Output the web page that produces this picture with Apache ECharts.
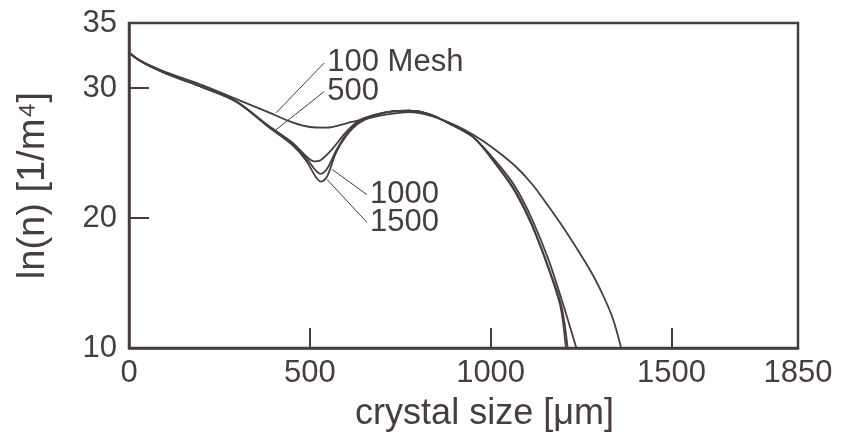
<!DOCTYPE html>
<html>
<head>
<meta charset="utf-8">
<script src="https://cdn.jsdelivr.net/npm/echarts@6/dist/echarts.min.js"></script>
<style>html,body{margin:0;padding:0;background:#fff}#c{width:847px;height:437px}</style>
</head>
<body>
<div id="c"></div>
<script>
// ---- data (crystal size [µm], ln(n)) ----
const mesh100 = [[0,32.75],[10,32.5],[25,32.2],[50,31.85],[113,31.1],[204,30.2],[297,29.15],[388,28.1],[452,27.35],[500,27.0],[545,26.95],[617,27.4],[710,27.95],[775,28.15],[830,27.9],[884,27.35],[930,26.75],[975,26.0],[1020,25.1],[1068,24.0],[1115,22.6],[1160,20.9],[1205,19.1],[1251,17.1],[1285,15.5],[1316,13.75],[1340,12.1],[1361,10]];
const mesh500 = [[0,32.75],[10,32.5],[25,32.2],[50,31.8],[113,31.0],[204,30.05],[297,28.95],[388,27.05],[452,25.8],[490,24.75],[512,24.35],[530,24.45],[562,25.3],[600,26.6],[636,27.5],[682,27.95],[728,28.2],[775,28.25],[830,28.0],[884,27.3],[953,26.2],[1022,24.1],[1068,22.4],[1113,20.0],[1160,16.8],[1200,13.4],[1237,10]];
const mesh1000 = [[0,32.75],[10,32.5],[25,32.2],[50,31.8],[113,31.0],[204,30.05],[297,28.95],[388,27.0],[452,25.7],[490,24.6],[518,23.6],[530,23.4],[548,23.8],[573,25.2],[600,26.4],[636,27.4],[682,27.95],[728,28.2],[775,28.25],[830,28.0],[884,27.3],[953,26.2],[1022,23.9],[1068,22.1],[1113,19.6],[1160,16.2],[1196,13.2],[1213,10]];
const mesh1500 = [[0,32.75],[10,32.5],[25,32.2],[50,31.8],[113,31.0],[204,30.05],[297,28.95],[388,26.95],[452,25.6],[490,24.4],[518,23.1],[532,22.8],[548,23.2],[572,25.0],[600,26.3],[636,27.3],[682,27.9],[728,28.2],[775,28.25],[830,28.0],[884,27.3],[953,26.2],[1022,23.85],[1068,22.0],[1113,19.5],[1160,16.1],[1193,13.2],[1208,10]];
const seriesNames = ['100 Mesh','500','1000','1500'];
// annotation leader lines: [curve point, label anchor]
const leader100 = [[407,28.1],[540,31.93]];
const leader500 = [[407,26.8],[540,29.73]];
const leader1000 = [[562,23.73],[658,21.8]];
const leader1500 = [[548,22.96],[658,19.66]];
const xLabels = [0,500,1000,1500,1850];
const xTicks = [500,1000,1500];
const yLabels = [10,20,30,35];
const yTicks = [20,30];

const INK = '#463c44';
const FONT = '"Liberation Sans", Arial, sans-serif';
const chart = echarts.init(document.getElementById('c'));
function curve(name, data){
  return {name, type:'line', data, smooth:0.3, showSymbol:false, symbol:'none',
    lineStyle:{color:INK, width:1.8}, z:3, silent:true};
}
function leader(name, data){
  return {type:'line', data, showSymbol:false, symbol:'none', silent:true,
    lineStyle:{color:INK, width:1}, z:2,
    endLabel:{show:true, formatter:name, color:INK, fontSize:31, fontFamily:FONT, distance:3}};
}
chart.setOption({
  backgroundColor:'#fff',
  animation:false,
  grid:{left:129, right:49, top:23, bottom:88, show:true, borderColor:INK, borderWidth:2.5},
  xAxis:{type:'value', min:0, max:1850,
    name:'crystal size [μm]', nameLocation:'middle', nameGap:48,
    nameTextStyle:{color:INK, fontSize:36, fontFamily:FONT, padding:[0,0,0,42]},
    axisLine:{show:true, lineStyle:{color:INK, width:2.5}},
    axisTick:{show:true, inside:true, length:20, customValues:xTicks, lineStyle:{color:INK, width:2}},
    axisLabel:{customValues:xLabels, formatter:v=>String(v), color:INK, fontSize:31, fontFamily:FONT, margin:10},
    splitLine:{show:false}},
  yAxis:{type:'value', min:10, max:35,
    name:'ln(n) [1/m⁴]', nameLocation:'middle', nameGap:76, nameRotate:90,
    nameTextStyle:{color:INK, fontSize:38, fontFamily:FONT},
    axisLine:{show:true, lineStyle:{color:INK, width:2.5}},
    axisTick:{show:true, inside:true, length:20, customValues:yTicks, lineStyle:{color:INK, width:2}},
    axisLabel:{customValues:yLabels, formatter:v=>String(v), color:INK, fontSize:31, fontFamily:FONT, margin:12},
    splitLine:{show:false}},
  series:[
    curve(seriesNames[0], mesh100), curve(seriesNames[1], mesh500),
    curve(seriesNames[2], mesh1000), curve(seriesNames[3], mesh1500),
    leader(seriesNames[0], leader100), leader(seriesNames[1], leader500),
    leader(seriesNames[2], leader1000), leader(seriesNames[3], leader1500)
  ]
});
</script>
</body>
</html>
